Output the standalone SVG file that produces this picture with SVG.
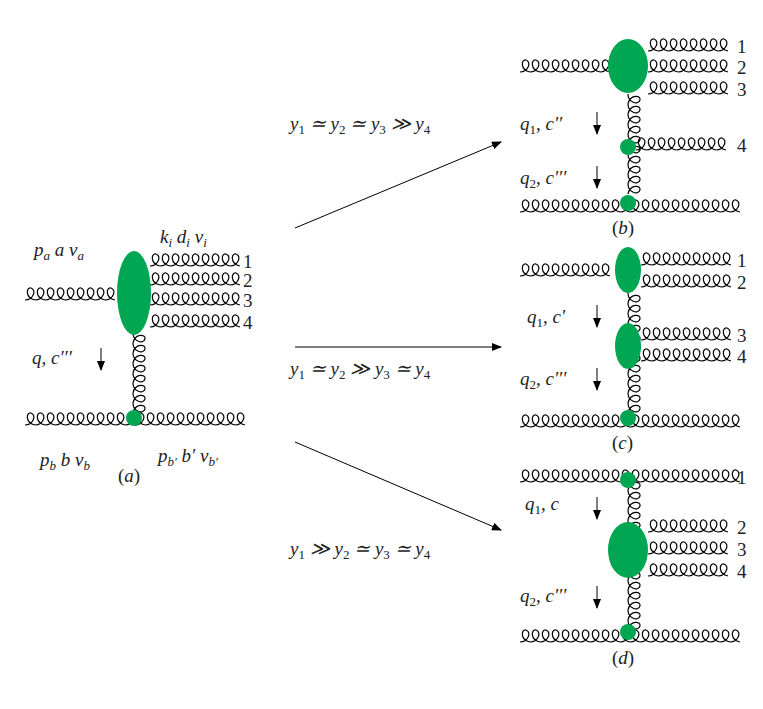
<svg xmlns="http://www.w3.org/2000/svg" xmlns:xlink="http://www.w3.org/1999/xlink" width="763" height="709" viewBox="0 0 763 709">
<style>
.gl{fill:none;stroke:#000;stroke-width:1.2}
.bl{fill:#00a651}
text{font-family:"Liberation Serif",serif;font-size:19px;font-style:italic;fill:#222}
.n{font-style:normal}
.s{font-size:13px}
.sn{font-size:13px;font-style:normal}
.ar{stroke:#000;stroke-width:1;marker-end:url(#ah)}
</style>
<defs>
<marker id="ah" markerWidth="10" markerHeight="8" refX="9" refY="4" orient="auto" markerUnits="userSpaceOnUse"><path d="M0,0 L10,4 L0,8 z" fill="#000"/></marker>
<path id="g1" class="gl" d="M0,0 c8,0 12,-10 6,-12 c-5,-1 -6,10 4,12"/>
<g id="g5"><use xlink:href="#g1"/><use xlink:href="#g1" x="10"/><use xlink:href="#g1" x="20"/><use xlink:href="#g1" x="30"/><use xlink:href="#g1" x="40"/></g>
<g id="g9"><use xlink:href="#g5"/><use xlink:href="#g1" x="50"/><use xlink:href="#g1" x="60"/><use xlink:href="#g1" x="70"/><use xlink:href="#g1" x="80"/></g>
<g id="g8"><use xlink:href="#g5"/><use xlink:href="#g1" x="50"/><use xlink:href="#g1" x="60"/><use xlink:href="#g1" x="70"/></g>
<g id="g10"><use xlink:href="#g5"/><use xlink:href="#g5" x="50"/></g>
<g id="g22"><use xlink:href="#g10"/><use xlink:href="#g10" x="100"/><use xlink:href="#g1" x="200"/><use xlink:href="#g1" x="210"/></g>
</defs>
<g id="connectors">
<line class="ar" x1="295" y1="228" x2="501" y2="142"/>
<line class="ar" x1="295" y1="347" x2="501" y2="347"/>
<line class="ar" x1="295" y1="442" x2="501" y2="530"/>
<line class="ar" x1="101" y1="348" x2="101" y2="370"/>
<line class="ar" x1="597" y1="112" x2="597" y2="134"/>
<line class="ar" x1="597" y1="166" x2="597" y2="188"/>
<line class="ar" x1="597" y1="305" x2="597" y2="327"/>
<line class="ar" x1="597" y1="368" x2="597" y2="390"/>
<line class="ar" x1="597" y1="497" x2="597" y2="519"/>
<line class="ar" x1="597" y1="586" x2="597" y2="608"/>
</g>
<g id="a">
<use xlink:href="#g9" x="25" y="300"/>
<use xlink:href="#g9" x="150" y="266"/><use xlink:href="#g9" x="150" y="285"/><use xlink:href="#g9" x="150" y="305"/><use xlink:href="#g9" x="150" y="327"/>
<use xlink:href="#g8" transform="translate(133,333) rotate(90)"/>
<use xlink:href="#g22" x="25" y="425"/>
<ellipse class="bl" cx="134" cy="293" rx="17" ry="42"/>
<circle class="bl" cx="134" cy="418" r="8"/>
<text x="34" y="256">p<tspan class="s" dy="4">a</tspan><tspan dy="-4"> a ν</tspan><tspan class="s" dy="4">a</tspan></text>
<text x="160" y="243">k<tspan class="s" dy="4">i</tspan><tspan dy="-4"> d</tspan><tspan class="s" dy="4">i</tspan><tspan dy="-4"> ν</tspan><tspan class="s" dy="4">i</tspan></text>
<text class="n" x="243" y="268">1</text><text class="n" x="243" y="287">2</text><text class="n" x="243" y="307">3</text><text class="n" x="243" y="329">4</text>
<text x="32" y="364">q, c′′′</text>
<text x="40" y="466">p<tspan class="s" dy="4">b</tspan><tspan dy="-4"> b ν</tspan><tspan class="s" dy="4">b</tspan></text>
<text x="158" y="462">p<tspan class="s" dy="4">b′</tspan><tspan dy="-4"> b′ ν</tspan><tspan class="s" dy="4">b′</tspan></text>
<text x="118" y="482"><tspan class="n">(</tspan>a<tspan class="n">)</tspan></text>
</g>
<g id="labels">
<text x="290" y="130">y<tspan class="sn" dy="4">1</tspan><tspan dy="-4"> ≃ y</tspan><tspan class="sn" dy="4">2</tspan><tspan dy="-4"> ≃ y</tspan><tspan class="sn" dy="4">3</tspan><tspan dy="-4"> ≫ y</tspan><tspan class="sn" dy="4">4</tspan></text>
<text x="290" y="375">y<tspan class="sn" dy="4">1</tspan><tspan dy="-4"> ≃ y</tspan><tspan class="sn" dy="4">2</tspan><tspan dy="-4"> ≫ y</tspan><tspan class="sn" dy="4">3</tspan><tspan dy="-4"> ≃ y</tspan><tspan class="sn" dy="4">4</tspan></text>
<text x="290" y="555">y<tspan class="sn" dy="4">1</tspan><tspan dy="-4"> ≫ y</tspan><tspan class="sn" dy="4">2</tspan><tspan dy="-4"> ≃ y</tspan><tspan class="sn" dy="4">3</tspan><tspan dy="-4"> ≃ y</tspan><tspan class="sn" dy="4">4</tspan></text>
</g>
<g id="b">
<use xlink:href="#g9" x="520" y="72"/>
<use xlink:href="#g8" x="648" y="51"/><use xlink:href="#g8" x="648" y="72"/><use xlink:href="#g8" x="648" y="94"/>
<use xlink:href="#g10" transform="translate(628,94) rotate(90)"/>
<use xlink:href="#g9" x="636" y="150"/>
<use xlink:href="#g22" x="520" y="212"/>
<ellipse class="bl" cx="628" cy="66" rx="20" ry="27"/>
<circle class="bl" cx="628" cy="147" r="8"/><circle class="bl" cx="628" cy="203" r="8"/>
<text class="n" x="737" y="53">1</text><text class="n" x="737" y="74">2</text><text class="n" x="737" y="96">3</text><text class="n" x="737" y="152">4</text>
<text x="520" y="130">q<tspan class="sn" dy="4">1</tspan><tspan dy="-4">, c′′</tspan></text>
<text x="520" y="184">q<tspan class="sn" dy="4">2</tspan><tspan dy="-4">, c′′′</tspan></text>
<text x="612" y="234"><tspan class="n">(</tspan>b<tspan class="n">)</tspan></text>
</g>
<g id="c">
<use xlink:href="#g9" x="520" y="276"/>
<use xlink:href="#g9" x="641" y="265"/><use xlink:href="#g9" x="641" y="287"/><use xlink:href="#g9" x="641" y="340"/><use xlink:href="#g9" x="641" y="361"/>
<use xlink:href="#g10" transform="translate(628,293) rotate(90)"/><use xlink:href="#g1" transform="translate(628,393) rotate(90)"/><use xlink:href="#g1" transform="translate(628,403) rotate(90)"/>
<use xlink:href="#g22" x="520" y="427"/>
<ellipse class="bl" cx="628" cy="270" rx="13" ry="23"/>
<ellipse class="bl" cx="628" cy="346" rx="13" ry="23"/>
<circle class="bl" cx="628" cy="418" r="8"/>
<text class="n" x="737" y="267">1</text><text class="n" x="737" y="289">2</text><text class="n" x="737" y="342">3</text><text class="n" x="737" y="363">4</text>
<text x="527" y="323">q<tspan class="sn" dy="4">1</tspan><tspan dy="-4">, c′</tspan></text>
<text x="520" y="385">q<tspan class="sn" dy="4">2</tspan><tspan dy="-4">, c′′′</tspan></text>
<text x="612" y="449"><tspan class="n">(</tspan>c<tspan class="n">)</tspan></text>
</g>
<g id="d">
<use xlink:href="#g22" x="520" y="482"/>
<use xlink:href="#g10" transform="translate(628,480) rotate(90)"/><use xlink:href="#g5" transform="translate(628,580) rotate(90)"/>
<use xlink:href="#g8" x="648" y="532"/><use xlink:href="#g8" x="648" y="554"/><use xlink:href="#g8" x="648" y="576"/>
<use xlink:href="#g22" x="520" y="642"/>
<circle class="bl" cx="628" cy="480" r="8"/>
<ellipse class="bl" cx="628" cy="550" rx="20" ry="28"/>
<circle class="bl" cx="628" cy="632" r="8"/>
<text class="n" x="737" y="484">1</text><text class="n" x="737" y="534">2</text><text class="n" x="737" y="556">3</text><text class="n" x="737" y="578">4</text>
<text x="525" y="510">q<tspan class="sn" dy="4">1</tspan><tspan dy="-4">, c</tspan></text>
<text x="520" y="602">q<tspan class="sn" dy="4">2</tspan><tspan dy="-4">, c′′′</tspan></text>
<text x="612" y="664"><tspan class="n">(</tspan>d<tspan class="n">)</tspan></text>
</g>
</svg>
